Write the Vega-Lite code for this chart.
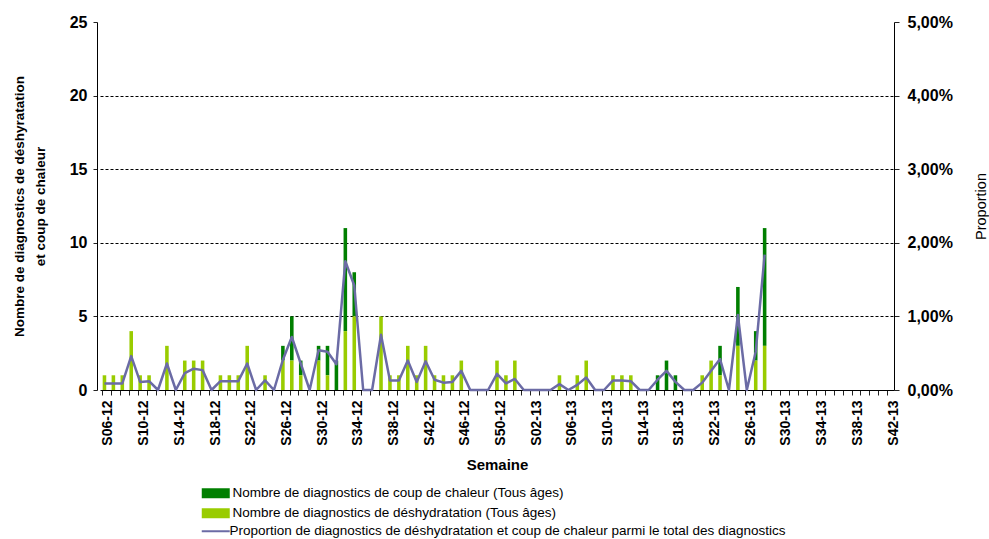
{
  "$schema": "https://vega.github.io/schema/vega-lite/v6.json",
  "autosize": {"type": "none"},
  "width": 794,
  "height": 368,
  "padding": {"left": 100, "top": 22, "right": 95, "bottom": 149},
  "background": "white",
  "config": {
    "view": {"stroke": null},
    "font": "Liberation Sans",
    "locale": {"number": {"decimal": ",", "thousands": " ", "grouping": [3], "currency": ["", " €"]}},
    "axis": {"domainColor": "#222", "tickColor": "#222", "labelColor": "#000", "titleColor": "#000"}
  },
  "data": {"values": [
    {"semaine": "S06-12", "deshydratation": 1, "chaleur": 0, "proportion": 0.0009},
    {"semaine": "S07-12", "deshydratation": 1, "chaleur": 0, "proportion": 0.0009},
    {"semaine": "S08-12", "deshydratation": 1, "chaleur": 0, "proportion": 0.0009},
    {"semaine": "S09-12", "deshydratation": 4, "chaleur": 0, "proportion": 0.0046},
    {"semaine": "S10-12", "deshydratation": 1, "chaleur": 0, "proportion": 0.0011},
    {"semaine": "S11-12", "deshydratation": 1, "chaleur": 0, "proportion": 0.0012},
    {"semaine": "S12-12", "deshydratation": 0, "chaleur": 0, "proportion": 0},
    {"semaine": "S13-12", "deshydratation": 3, "chaleur": 0, "proportion": 0.0036},
    {"semaine": "S14-12", "deshydratation": 0, "chaleur": 0, "proportion": 0},
    {"semaine": "S15-12", "deshydratation": 2, "chaleur": 0, "proportion": 0.0023},
    {"semaine": "S16-12", "deshydratation": 2, "chaleur": 0, "proportion": 0.0029},
    {"semaine": "S17-12", "deshydratation": 2, "chaleur": 0, "proportion": 0.0027},
    {"semaine": "S18-12", "deshydratation": 0, "chaleur": 0, "proportion": 0},
    {"semaine": "S19-12", "deshydratation": 1, "chaleur": 0, "proportion": 0.0012},
    {"semaine": "S20-12", "deshydratation": 1, "chaleur": 0, "proportion": 0.0012},
    {"semaine": "S21-12", "deshydratation": 1, "chaleur": 0, "proportion": 0.0012},
    {"semaine": "S22-12", "deshydratation": 3, "chaleur": 0, "proportion": 0.0036},
    {"semaine": "S23-12", "deshydratation": 0, "chaleur": 0, "proportion": 0},
    {"semaine": "S24-12", "deshydratation": 1, "chaleur": 0, "proportion": 0.0013},
    {"semaine": "S25-12", "deshydratation": 0, "chaleur": 0, "proportion": 0},
    {"semaine": "S26-12", "deshydratation": 2, "chaleur": 1, "proportion": 0.0041},
    {"semaine": "S27-12", "deshydratation": 2, "chaleur": 3, "proportion": 0.0072},
    {"semaine": "S28-12", "deshydratation": 1, "chaleur": 1, "proportion": 0.0036},
    {"semaine": "S29-12", "deshydratation": 0, "chaleur": 0, "proportion": 0},
    {"semaine": "S30-12", "deshydratation": 2, "chaleur": 1, "proportion": 0.0054},
    {"semaine": "S31-12", "deshydratation": 1, "chaleur": 2, "proportion": 0.0052},
    {"semaine": "S32-12", "deshydratation": 0, "chaleur": 2, "proportion": 0.0035},
    {"semaine": "S33-12", "deshydratation": 4, "chaleur": 7, "proportion": 0.0175},
    {"semaine": "S34-12", "deshydratation": 5, "chaleur": 3, "proportion": 0.0142},
    {"semaine": "S35-12", "deshydratation": 0, "chaleur": 0, "proportion": 0},
    {"semaine": "S36-12", "deshydratation": 0, "chaleur": 0, "proportion": 0},
    {"semaine": "S37-12", "deshydratation": 5, "chaleur": 0, "proportion": 0.0075},
    {"semaine": "S38-12", "deshydratation": 1, "chaleur": 0, "proportion": 0.0013},
    {"semaine": "S39-12", "deshydratation": 1, "chaleur": 0, "proportion": 0.0013},
    {"semaine": "S40-12", "deshydratation": 3, "chaleur": 0, "proportion": 0.0040},
    {"semaine": "S41-12", "deshydratation": 1, "chaleur": 0, "proportion": 0.0011},
    {"semaine": "S42-12", "deshydratation": 3, "chaleur": 0, "proportion": 0.0039},
    {"semaine": "S43-12", "deshydratation": 1, "chaleur": 0, "proportion": 0.0014},
    {"semaine": "S44-12", "deshydratation": 1, "chaleur": 0, "proportion": 0.0010},
    {"semaine": "S45-12", "deshydratation": 1, "chaleur": 0, "proportion": 0.0011},
    {"semaine": "S46-12", "deshydratation": 2, "chaleur": 0, "proportion": 0.0026},
    {"semaine": "S47-12", "deshydratation": 0, "chaleur": 0, "proportion": 0},
    {"semaine": "S48-12", "deshydratation": 0, "chaleur": 0, "proportion": 0},
    {"semaine": "S49-12", "deshydratation": 0, "chaleur": 0, "proportion": 0},
    {"semaine": "S50-12", "deshydratation": 2, "chaleur": 0, "proportion": 0.0022},
    {"semaine": "S51-12", "deshydratation": 1, "chaleur": 0, "proportion": 0.0009},
    {"semaine": "S52-12", "deshydratation": 2, "chaleur": 0, "proportion": 0.0015},
    {"semaine": "S01-13", "deshydratation": 0, "chaleur": 0, "proportion": 0},
    {"semaine": "S02-13", "deshydratation": 0, "chaleur": 0, "proportion": 0},
    {"semaine": "S03-13", "deshydratation": 0, "chaleur": 0, "proportion": 0},
    {"semaine": "S04-13", "deshydratation": 0, "chaleur": 0, "proportion": 0},
    {"semaine": "S05-13", "deshydratation": 1, "chaleur": 0, "proportion": 0.0008},
    {"semaine": "S06-13", "deshydratation": 0, "chaleur": 0, "proportion": 0},
    {"semaine": "S07-13", "deshydratation": 1, "chaleur": 0, "proportion": 0.0007},
    {"semaine": "S08-13", "deshydratation": 2, "chaleur": 0, "proportion": 0.0017},
    {"semaine": "S09-13", "deshydratation": 0, "chaleur": 0, "proportion": 0},
    {"semaine": "S10-13", "deshydratation": 0, "chaleur": 0, "proportion": 0},
    {"semaine": "S11-13", "deshydratation": 1, "chaleur": 0, "proportion": 0.0013},
    {"semaine": "S12-13", "deshydratation": 1, "chaleur": 0, "proportion": 0.0013},
    {"semaine": "S13-13", "deshydratation": 1, "chaleur": 0, "proportion": 0.0012},
    {"semaine": "S14-13", "deshydratation": 0, "chaleur": 0, "proportion": 0},
    {"semaine": "S15-13", "deshydratation": 0, "chaleur": 0, "proportion": 0},
    {"semaine": "S16-13", "deshydratation": 0, "chaleur": 1, "proportion": 0.0014},
    {"semaine": "S17-13", "deshydratation": 0, "chaleur": 2, "proportion": 0.0026},
    {"semaine": "S18-13", "deshydratation": 0, "chaleur": 1, "proportion": 0.0011},
    {"semaine": "S19-13", "deshydratation": 0, "chaleur": 0, "proportion": 0},
    {"semaine": "S20-13", "deshydratation": 0, "chaleur": 0, "proportion": 0},
    {"semaine": "S21-13", "deshydratation": 1, "chaleur": 0, "proportion": 0.0010},
    {"semaine": "S22-13", "deshydratation": 2, "chaleur": 0, "proportion": 0.0026},
    {"semaine": "S23-13", "deshydratation": 1, "chaleur": 2, "proportion": 0.0042},
    {"semaine": "S24-13", "deshydratation": 0, "chaleur": 0, "proportion": 0},
    {"semaine": "S25-13", "deshydratation": 3, "chaleur": 4, "proportion": 0.0102},
    {"semaine": "S26-13", "deshydratation": 0, "chaleur": 0, "proportion": 0},
    {"semaine": "S27-13", "deshydratation": 2, "chaleur": 2, "proportion": 0.0052},
    {"semaine": "S28-13", "deshydratation": 3, "chaleur": 8, "proportion": 0.0184},
    {"semaine": "S29-13", "deshydratation": null, "chaleur": null, "proportion": null},
    {"semaine": "S30-13", "deshydratation": null, "chaleur": null, "proportion": null},
    {"semaine": "S31-13", "deshydratation": null, "chaleur": null, "proportion": null},
    {"semaine": "S32-13", "deshydratation": null, "chaleur": null, "proportion": null},
    {"semaine": "S33-13", "deshydratation": null, "chaleur": null, "proportion": null},
    {"semaine": "S34-13", "deshydratation": null, "chaleur": null, "proportion": null},
    {"semaine": "S35-13", "deshydratation": null, "chaleur": null, "proportion": null},
    {"semaine": "S36-13", "deshydratation": null, "chaleur": null, "proportion": null},
    {"semaine": "S37-13", "deshydratation": null, "chaleur": null, "proportion": null},
    {"semaine": "S38-13", "deshydratation": null, "chaleur": null, "proportion": null},
    {"semaine": "S39-13", "deshydratation": null, "chaleur": null, "proportion": null},
    {"semaine": "S40-13", "deshydratation": null, "chaleur": null, "proportion": null},
    {"semaine": "S41-13", "deshydratation": null, "chaleur": null, "proportion": null},
    {"semaine": "S42-13", "deshydratation": null, "chaleur": null, "proportion": null}
  ]},
  "layer": [
    {
      "transform": [{"fold": ["chaleur", "deshydratation"], "as": ["serie", "nombre"]}],
      "mark": {"type": "bar"},
      "encoding": {
        "x": {
          "field": "semaine", "type": "ordinal",
          "scale": {
            "paddingInner": 0.6, "paddingOuter": 0.3,
            "domain": ["S06-12","S07-12","S08-12","S09-12","S10-12","S11-12","S12-12","S13-12","S14-12","S15-12","S16-12","S17-12","S18-12","S19-12","S20-12","S21-12","S22-12","S23-12","S24-12","S25-12","S26-12","S27-12","S28-12","S29-12","S30-12","S31-12","S32-12","S33-12","S34-12","S35-12","S36-12","S37-12","S38-12","S39-12","S40-12","S41-12","S42-12","S43-12","S44-12","S45-12","S46-12","S47-12","S48-12","S49-12","S50-12","S51-12","S52-12","S01-13","S02-13","S03-13","S04-13","S05-13","S06-13","S07-13","S08-13","S09-13","S10-13","S11-13","S12-13","S13-13","S14-13","S15-13","S16-13","S17-13","S18-13","S19-13","S20-13","S21-13","S22-13","S23-13","S24-13","S25-13","S26-13","S27-13","S28-13","S29-13","S30-13","S31-13","S32-13","S33-13","S34-13","S35-13","S36-13","S37-13","S38-13","S39-13","S40-13","S41-13","S42-13"]
          },
          "axis": {
            "title": "Semaine",
            "titleFontSize": 15, "titleFontWeight": "bold", "titlePadding": 12,
            "labelAngle": -90, "labelAlign": "right", "labelBaseline": "middle",
            "labelExpr": "toNumber(substring(datum.label,1,3)) % 4 == 2 ? datum.label : ''",
            "labelOverlap": false,
            "labelFontSize": 14, "labelFontWeight": "bold", "labelPadding": 5,
            "bandPosition": 0, "labelOffset": 4,
            "tickSize": 5, "domainColor": "#000", "grid": false
          }
        },
        "y": {
          "field": "nombre", "type": "quantitative", "stack": "zero",
          "scale": {"domain": [0, 25]},
          "axis": {
            "title": ["Nombre de diagnostics de déshyratation", "et coup de chaleur"],
            "titleFontSize": 13.5, "titleFontWeight": "bold", "titlePadding": 22, "titleLineHeight": 21,
            "values": [0, 5, 10, 15, 20, 25],
            "offset": 3,
            "tickSize": 4, "labelPadding": 6,
            "labelFontSize": 16, "labelFontWeight": "bold",
            "domainColor": "#000",
            "grid": true, "gridColor": "#000", "gridDash": [3, 2],
            "gridOpacity": {"condition": {"test": "datum.value == 25 || datum.value == 0", "value": 0}, "value": 1}
          }
        },
        "color": {
          "field": "serie", "type": "nominal",
          "scale": {"domain": ["chaleur", "deshydratation"], "range": ["#007F00", "#99CC00"]},
          "legend": {
            "orient": "none", "legendX": 100, "legendY": 464.5, "direction": "vertical",
            "title": null, "padding": 0,
            "symbolType": "M-1,-1H4.6V1H-1Z", "symbolSize": 100, "symbolStrokeWidth": 0,
            "labelFontSize": 13.5, "labelColor": "#000", "labelOffset": 19, "rowPadding": 5, "labelLimit": 0,
            "labelExpr": "datum.label == 'chaleur' ? 'Nombre de diagnostics de coup de chaleur (Tous âges)' : 'Nombre de diagnostics de déshydratation (Tous âges)'"
          }
        },
        "order": {"field": "serie", "sort": "descending"}
      }
    },
    {
      "mark": {"type": "line", "strokeWidth": 2.5, "strokeJoin": "round"},
      "encoding": {
        "x": {"field": "semaine", "type": "ordinal"},
        "y": {
          "field": "proportion", "type": "quantitative",
          "scale": {"domain": [0, 0.05]},
          "axis": {
            "orient": "right", "title": "Proportion", "format": ".2%",
            "values": [0, 0.01, 0.02, 0.03, 0.04, 0.05],
            "tickSize": 5, "labelPadding": 8,
            "labelFontSize": 16, "labelFontWeight": "bold",
            "titleFontSize": 14.5, "titleFontWeight": "normal", "titleAngle": 270, "titlePadding": 36,
            "domainColor": "#000", "grid": false
          }
        },
        "stroke": {
          "datum": "Proportion de diagnostics de déshydratation et coup de chaleur parmi le total des diagnostics",
          "type": "nominal",
          "scale": {"range": ["#6B6BA5"]},
          "legend": {
            "orient": "none", "legendX": 100, "legendY": 502.5,
            "title": null, "padding": 0,
            "symbolType": "M-1,0H4.6", "symbolSize": 100, "symbolStrokeWidth": 2,
            "labelFontSize": 13.5, "labelColor": "#000", "labelOffset": 16, "labelLimit": 0
          }
        }
      }
    }
  ],
  "resolve": {"scale": {"y": "independent"}}
}
